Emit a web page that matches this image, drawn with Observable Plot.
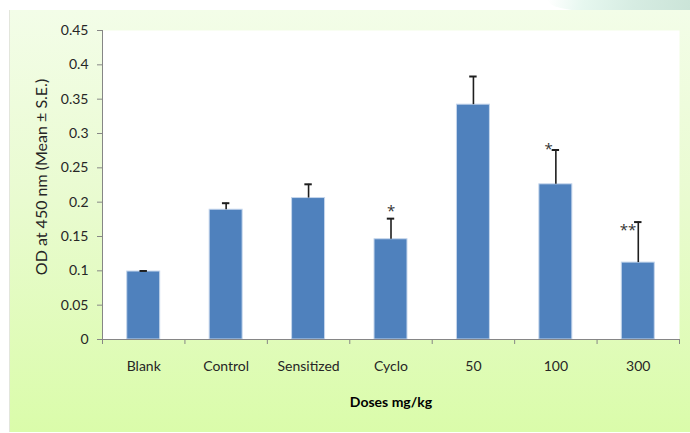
<!DOCTYPE html>
<html>
<head>
<meta charset="utf-8">
<script src="https://cdn.jsdelivr.net/npm/d3@7"></script>
<script src="https://cdn.jsdelivr.net/npm/@observablehq/plot@0.6"></script>
<style>
  html, body { margin: 0; padding: 0; background: #ffffff; }
  #wrap { position: relative; width: 690px; height: 433px; overflow: hidden; background: #ffffff; }
  #swoosh { position: absolute; left: 548px; top: 0; width: 142px; height: 11px;
    background: linear-gradient(100deg, #ffffff 0%, #e6f7ef 25%, #d6ece2 60%, #cbe4d8 100%);
    border-bottom-left-radius: 40px 11px; }
  #panel { position: absolute; left: 9px; top: 10px; width: 681px; height: 422px;
    background: linear-gradient(to bottom, #f3fde8 0%, #e9fbd0 45%, #dafcaa 100%);
    border-left: 1px solid #e3e6dc; box-sizing: border-box; }
  #chart { position: absolute; left: 0; top: 0; }
</style>
</head>
<body>
<div id="wrap">
  <div id="swoosh"></div>
  <div id="panel"></div>
  <div id="chart"></div>
</div>
<script>
const categories = ["Blank", "Control", "Sensitized", "Cyclo", "50", "100", "300"];
const means = [0.099, 0.189, 0.206, 0.146, 0.342, 0.226, 0.112];
const errors = [0.0008, 0.0095, 0.020, 0.030, 0.041, 0.050, 0.059];
const significance = ["", "", "", "*", "", "*", "**"];
const yTicks = [0, 0.05, 0.1, 0.15, 0.2, 0.25, 0.3, 0.35, 0.4, 0.45];
const yLabel = "OD at 450 nm (Mean ± S.E.)";
const xLabel = "Doses mg/kg";

const data = categories.map((c, i) => ({i, category: c, mean: means[i], se: errors[i], sig: significance[i]}));
const axisGray = "#868686";
const starFont = "'Open Sans', 'DejaVu Sans', sans-serif";

const chart = Plot.plot({
  width: 690,
  height: 433,
  marginLeft: 102,
  marginRight: 11,
  marginTop: 30,
  marginBottom: 94,
  style: {background: "transparent", fontFamily: "Lato, 'Open Sans', sans-serif", fontSize: "14px", color: "#262626"},
  x: {type: "linear", domain: [0, categories.length], axis: null},
  y: {domain: [0, 0.45], axis: null},
  marks: [
    Plot.frame({fill: "white", stroke: null}),
    Plot.rectY(data, {x1: d => d.i + 0.3, x2: d => d.i + 0.7, y: "mean", fill: "#4f81bd", stroke: "#c5d6ec", strokeWidth: 1}),
    Plot.ruleX(data, {x: d => d.i + 0.5, y1: "mean", y2: d => d.mean + d.se, stroke: "#1e1e1e", strokeWidth: 1.6}),
    Plot.ruleY(data, {y: d => d.mean + d.se, x1: d => d.i + 0.455, x2: d => d.i + 0.545, stroke: "#1e1e1e", strokeWidth: 2}),
    Plot.text(data.filter(d => d.i === 3), {x: d => d.i + 0.5, y: d => d.mean + d.se, text: "sig", dy: -7, fontSize: 15, fontFamily: starFont, fill: "#333"}),
    Plot.text(data.filter(d => d.i === 5), {x: d => d.i + 0.5, y: d => d.mean + d.se, text: "sig", textAnchor: "end", dx: -3, dy: -1, fontSize: 15, fontFamily: starFont, fill: "#333"}),
    Plot.text(data.filter(d => d.i === 6), {x: d => d.i + 0.5, y: d => d.mean + d.se, text: "sig", textAnchor: "end", dx: -2, dy: 8, fontSize: 15, fontFamily: starFont, fill: "#333"}),
    Plot.axisY({ticks: yTicks, tickSize: 5, tickPadding: 9, tickFormat: d => String(+d.toFixed(2)), stroke: axisGray, label: null}),
    Plot.ruleX([0], {stroke: axisGray}),
    Plot.ruleY([0], {stroke: axisGray}),
    Plot.axisX({ticks: d3.range(categories.length + 1), tickSize: 5, tickFormat: () => "", stroke: axisGray, label: null}),
    Plot.axisX({ticks: d3.range(categories.length).map(i => i + 0.5), tickSize: 0, tickPadding: 22, tickFormat: d => categories[Math.floor(d)], label: null}),
    Plot.text([xLabel], {frameAnchor: "bottom", dy: 67, fontWeight: "bold", fontSize: 14, fill: "#000"}),
    Plot.text([yLabel], {frameAnchor: "left", textAnchor: "middle", rotate: -90, dx: -61, dy: -8, fontSize: 16, fill: "#262626"})
  ]
});
document.getElementById("chart").appendChild(chart);
</script>
</body>
</html>
